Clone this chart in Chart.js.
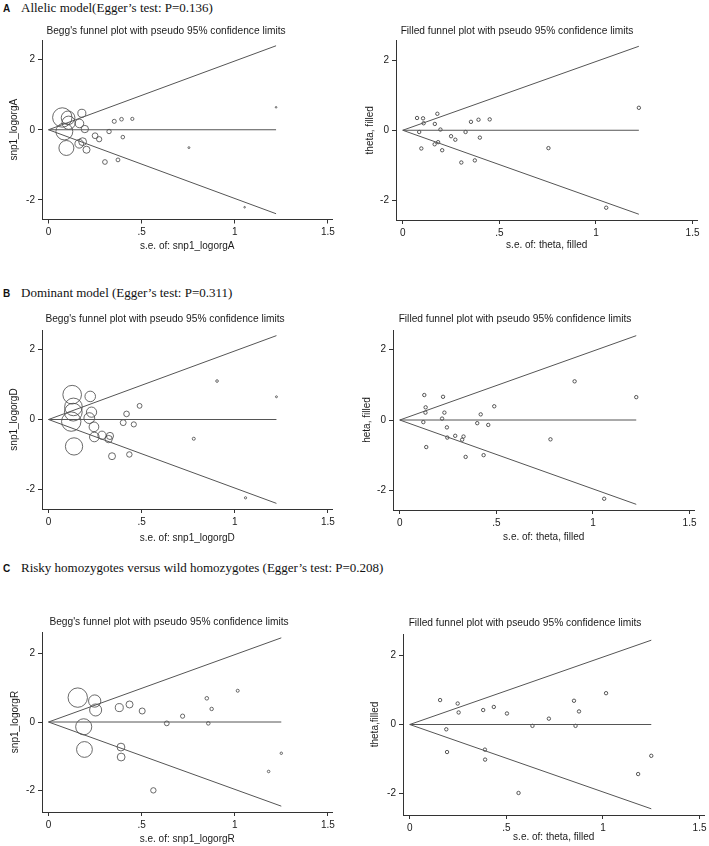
<!DOCTYPE html>
<html>
<head>
<meta charset="utf-8">
<script src="https://cdn.jsdelivr.net/npm/chart.js@4.4.1/dist/chart.umd.min.js"></script>
<style>
  html, body { margin: 0; padding: 0; background: #fff; }
  body { width: 709px; height: 846px; position: relative; overflow: hidden; }
  .panel { position: absolute; }
  .head { position: absolute; left: 3px; font: 13px "Liberation Serif", "Times New Roman", serif; color: #111; white-space: nowrap; line-height: 16px; }
  .head b { font: bold 10px "Liberation Sans", Arial, sans-serif; display: inline-block; width: 18px; }
</style>
</head>
<body>
<div class="head" style="top:0px"><b>A</b>Allelic model(Egger’s test: P=0.136)</div>
<div class="head" style="top:285px"><b>B</b>Dominant model (Egger’s test: P=0.311)</div>
<div class="head" style="top:560px"><b>C</b>Risky homozygotes versus wild homozygotes (Egger’s test: P=0.208)</div>
<script>
// study log odds ratios and their standard errors
const seA = [0.074, 0.085, 0.096, 0.105, 0.108, 0.179, 0.166, 0.195, 0.165, 0.183, 0.204, 0.250,
             0.272, 0.325, 0.303, 0.353, 0.392, 0.399, 0.373, 0.450, 0.754, 1.053, 1.222];
const logorA = [0.35, -0.05, -0.52, 0.34, 0.20, 0.47, 0.18, 0.02, -0.40, -0.34, -0.57, -0.17,
                -0.27, -0.05, -0.92, 0.24, 0.30, -0.21, -0.86, 0.31, -0.51, -2.21, 0.64];

const seB = [0.127, 0.134, 0.133, 0.122, 0.137, 0.224, 0.231, 0.219, 0.244, 0.246, 0.287, 0.330,
             0.323, 0.341, 0.401, 0.419, 0.458, 0.489, 0.434, 0.780, 0.905, 1.058, 1.224];
const logorB = [0.71, 0.36, 0.21, -0.06, -0.77, 0.66, 0.21, 0.04, -0.21, -0.50, -0.45, -0.47,
                -0.56, -1.05, -0.09, 0.16, -0.14, 0.39, -1.00, -0.55, 1.10, -2.24, 0.65];

const seC = [0.157, 0.248, 0.253, 0.189, 0.193, 0.380, 0.435, 0.503, 0.389, 0.390, 0.563, 0.635,
             0.720, 0.850, 0.876, 0.858, 1.016, 1.182, 1.250];
const logorC = [0.71, 0.61, 0.35, -0.14, -0.80, 0.42, 0.51, 0.32, -0.73, -1.02, -1.99, -0.04,
                0.17, 0.69, 0.38, -0.04, 0.91, -1.44, -0.91];

// pooled estimate (centre line) per model
const pooledA = 0;
const pooledB = 0;
const pooledC = 0;
const z95 = 1.96;

const xTicks = [0, 0.5, 1, 1.5];
const xTickLabels = ['0', '.5', '1', '1.5'];
const yTicks = [-2, 0, 2];
const yTickLabels = ['-2', '0', '2'];

const FONT = '"Liberation Sans", Arial, Helvetica, sans-serif';
const TITLE_SIZE = 10.2;
const AXIS_SIZE = 10;
const TITLE_LH = TITLE_SIZE * 1.2;
const AXIS_LH = AXIS_SIZE * 1.2;
const TEXT = '#1a1a1a';
const AXIS = '#333';
const LINE = '#555';
const MARK = '#444';
const BEGG_RMAX = 9.7;   // biggest weighted marker
const FILLED_R = 1.7;
const X_RANGE = [-0.035, 1.525];

const beggTitle = "Begg's funnel plot with pseudo 95% confidence limits";
const filledTitle = 'Filled funnel plot with pseudo 95% confidence limits';

const panels = [
  { se: seA, y: logorA, pooled: pooledA, begg: true, title: beggTitle,
    xTitle: 's.e. of: snp1_logorgA', yTitle: 'snp1_logorgA',
    titleX: 166, titleY: 31, area: { l: 42, r: 343, t: 40, b: 219.5 }, yTitleX: 14, xTitleY: 246, yRange: [-2.56, 2.56] },
  { se: seA, y: logorA, pooled: pooledA, begg: false, title: filledTitle,
    xTitle: 's.e. of: theta, filled', yTitle: 'theta, filled',
    titleX: 517, titleY: 31, area: { l: 396, r: 700, t: 40.5, b: 220 }, yTitleX: 370, xTitleY: 245, yRange: [-2.56, 2.56] },
  { se: seB, y: logorB, pooled: pooledB, begg: true, title: beggTitle,
    xTitle: 's.e. of: snp1_logorgD', yTitle: 'snp1_logorgD',
    titleX: 165, titleY: 319.3, area: { l: 42, r: 343, t: 330, b: 509 }, yTitleX: 14, xTitleY: 538, yRange: [-2.56, 2.56] },
  { se: seB, y: logorB, pooled: pooledB, begg: false, title: filledTitle,
    xTitle: 's.e. of: theta, filled', yTitle: 'heta, filled',
    titleX: 515, titleY: 319.3, area: { l: 393, r: 697, t: 330, b: 510 }, yTitleX: 367, xTitleY: 537, yRange: [-2.56, 2.56] },
  { se: seC, y: logorC, pooled: pooledC, begg: true, title: beggTitle,
    xTitle: 's.e. of: snp1_logorgR', yTitle: 'snp1_logorgR',
    titleX: 169, titleY: 621.7, area: { l: 42, r: 343, t: 632, b: 812 }, yTitleX: 15, xTitleY: 839, yRange: [-2.62, 2.62] },
  { se: seC, y: logorC, pooled: pooledC, begg: false, title: filledTitle,
    xTitle: 's.e. of: theta, filled', yTitle: 'theta,filled',
    titleX: 525, titleY: 623.3, area: { l: 403, r: 707, t: 634, b: 815 }, yTitleX: 375, xTitleY: 837, yRange: [-2.63, 2.63] }
];

function drawPanel(p) {
  // canvas placed so the title centre and the plot area land where they are in the figure
  const left = Math.round(2 * p.titleX - p.area.r);
  const top = Math.floor(p.titleY - TITLE_LH / 2);
  const bottom = Math.ceil(p.xTitleY + AXIS_LH / 2 + 1);
  const width = p.area.r - left;
  const height = bottom - top;

  const box = document.createElement('div');
  box.className = 'panel';
  box.style.left = left + 'px';
  box.style.top = top + 'px';
  box.style.width = width + 'px';
  box.style.height = height + 'px';
  const canvas = document.createElement('canvas');
  box.appendChild(canvas);
  document.body.appendChild(box);

  const maxSe = Math.max(...p.se);
  const minSe = Math.min(...p.se);
  const points = p.se.map((s, i) => ({ x: s, y: p.y[i] }));
  const radii = p.begg ? p.se.map(s => Math.max(0.8, BEGG_RMAX * minSe / s)) : FILLED_R;
  const titlePadTop = p.titleY - TITLE_LH / 2 - top;
  const titlePadBottom = p.area.t - top - titlePadTop - TITLE_LH;

  const lineSet = (pts) => ({
    data: pts, showLine: true, pointRadius: 0, pointHoverRadius: 0,
    borderColor: LINE, borderWidth: 1, fill: false
  });
  const axisFont = { family: FONT, size: AXIS_SIZE };

  new Chart(canvas, {
    type: 'scatter',
    data: {
      datasets: [
        lineSet([{ x: 0, y: p.pooled }, { x: maxSe, y: p.pooled + z95 * maxSe }]),
        lineSet([{ x: 0, y: p.pooled }, { x: maxSe, y: p.pooled - z95 * maxSe }]),
        lineSet([{ x: 0, y: p.pooled }, { x: maxSe, y: p.pooled }]),
        {
          data: points,
          pointRadius: radii,
          pointHoverRadius: radii,
          backgroundColor: 'rgba(0,0,0,0)',
          borderColor: MARK,
          borderWidth: p.begg ? 0.8 : 0.9,
          clip: false
        }
      ]
    },
    options: {
      responsive: true,
      maintainAspectRatio: false,
      animation: false,
      layout: { padding: 0 },
      events: [],
      plugins: {
        legend: { display: false },
        tooltip: { enabled: false },
        title: {
          display: true, text: p.title, color: TEXT,
          font: { family: FONT, size: TITLE_SIZE, weight: 'normal' },
          padding: { top: titlePadTop, bottom: titlePadBottom }
        }
      },
      scales: {
        x: {
          type: 'linear', min: X_RANGE[0], max: X_RANGE[1],
          afterBuildTicks: s => { s.ticks = xTicks.map(v => ({ value: v })); },
          afterFit: s => { s.height = bottom - p.area.b; s.paddingLeft = 0; s.paddingRight = 0; },
          ticks: { callback: (v, i) => xTickLabels[i], font: axisFont, color: TEXT, padding: 3, maxRotation: 0, autoSkip: false },
          grid: { drawOnChartArea: false, drawTicks: true, tickLength: 4, color: AXIS },
          border: { display: true, color: AXIS, width: 1 },
          title: { display: true, text: p.xTitle, font: axisFont, color: TEXT,
                   padding: { top: 0, bottom: bottom - p.xTitleY - AXIS_LH / 2 } }
        },
        y: {
          type: 'linear', min: p.yRange[0], max: p.yRange[1],
          afterBuildTicks: s => { s.ticks = yTicks.map(v => ({ value: v })); },
          afterFit: s => { s.width = p.area.l - left; s.paddingTop = 0; s.paddingBottom = 0; },
          ticks: { callback: (v, i) => yTickLabels[i], font: axisFont, color: TEXT, padding: 3, autoSkip: false },
          grid: { drawOnChartArea: false, drawTicks: true, tickLength: 4, color: AXIS },
          border: { display: true, color: AXIS, width: 1 },
          title: { display: true, text: p.yTitle, font: axisFont, color: TEXT,
                   padding: { top: p.yTitleX - left - AXIS_LH / 2, bottom: 0 } }
        }
      }
    }
  });
}

panels.forEach(drawPanel);
</script>
</body>
</html>
